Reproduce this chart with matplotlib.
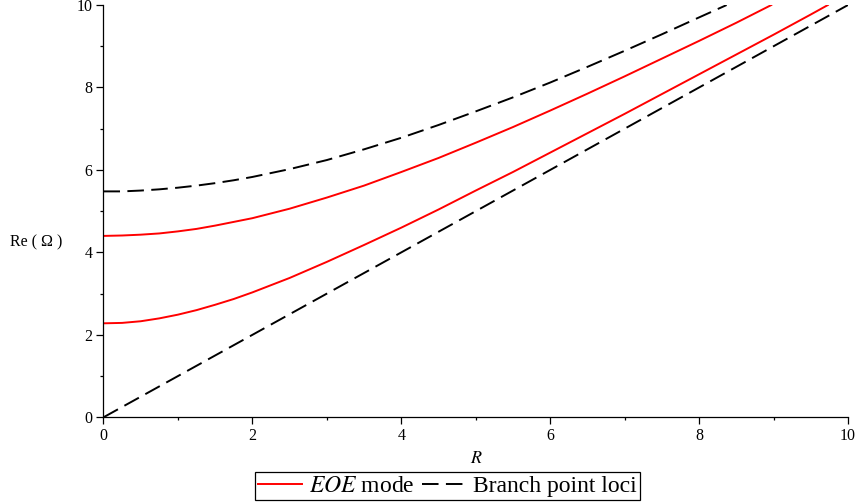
import matplotlib
matplotlib.use('Agg')
import matplotlib.pyplot as plt
from matplotlib.ticker import MultipleLocator

plt.rc('font', family='Liberation Serif', size=11.5)
plt.rc('mathtext', fontset='stix')

# values
r_low = [0, 0.25, 0.5, 0.75, 1, 1.25, 1.5, 1.75, 2, 2.5, 3, 3.5, 4, 4.5, 5, 5.5,
         6, 6.5, 7, 7.5, 8, 8.5, 9, 9.5, 9.73]
om_low = [2.28, 2.29, 2.33, 2.40, 2.49, 2.60, 2.73, 2.87, 3.03, 3.38, 3.77, 4.18,
          4.60, 5.04, 5.50, 5.95, 6.42, 6.89, 7.36, 7.84, 8.32, 8.80, 9.28, 9.77, 10.0]

r_up = [0, 0.25, 0.5, 0.75, 1, 1.25, 1.5, 1.75, 2, 2.5, 3, 3.5, 4, 4.5, 5, 5.5,
        6, 6.5, 7, 7.5, 8, 8.5, 8.97]
om_up = [4.40, 4.41, 4.43, 4.46, 4.51, 4.57, 4.65, 4.74, 4.83, 5.06, 5.33, 5.62,
         5.95, 6.29, 6.66, 7.04, 7.44, 7.85, 8.27, 8.70, 9.13, 9.57, 10.0]

r_bp = [0, 0.25, 0.5, 0.75, 1, 1.25, 1.5, 1.75, 2, 2.5, 3, 3.5, 4, 4.5, 5, 5.5,
        6, 6.5, 7, 7.5, 8, 8.37]
om_bp = [5.48, 5.48, 5.50, 5.53, 5.57, 5.62, 5.68, 5.75, 5.83, 6.02, 6.24, 6.50,
         6.78, 7.09, 7.42, 7.76, 8.12, 8.50, 8.89, 9.29, 9.70, 10.0]

r_line = [0, 10]
om_line = [0, 10]

fig = plt.figure(figsize=(8.58, 5.04), dpi=100)
ax = fig.add_axes([0.1206, 0.172, 0.8677, 0.818])

lw = 1.4
dash = (8.5, 3.8)
ax.plot(r_low, om_low, color='#ff0000', lw=lw, label='$EOE$ mode')
ax.plot(r_up, om_up, color='#ff0000', lw=lw)
ax.plot(r_bp, om_bp, color='black', lw=lw, dashes=dash, label='Branch point loci')
ax.plot(r_line, om_line, color='black', lw=lw, dashes=dash)

ax.set_xlim(0, 10)
ax.set_ylim(0, 10)
ax.spines['top'].set_visible(False)
ax.spines['right'].set_visible(False)
for s in ['left', 'bottom']:
    ax.spines[s].set_linewidth(0.9)

ax.xaxis.set_major_locator(MultipleLocator(2))
ax.xaxis.set_minor_locator(MultipleLocator(1))
ax.yaxis.set_major_locator(MultipleLocator(2))
ax.yaxis.set_minor_locator(MultipleLocator(1))
ax.tick_params(which='major', length=5, width=0.9, pad=3)
ax.tick_params(which='minor', length=2.5, width=0.9)

ax.set_xlabel('$R$', fontsize=13)
ax.xaxis.label.set_va('center')
ax.xaxis.set_label_coords(0.5003, -0.099)
ax.set_ylabel('Re ( Ω )', rotation=0, ha='center', va='center')
ax.yaxis.set_label_coords(-0.0907, 0.425)

leg = fig.legend(loc='center', bbox_to_anchor=(0.5216, 0.0357), ncol=2, fancybox=False,
                 edgecolor='black', framealpha=1, fontsize=17, handlelength=1.85,
                 handletextpad=0.33, columnspacing=0.3, borderpad=0.12, borderaxespad=0)
leg.get_frame().set_linewidth(0.9)

fig.savefig('out.png', dpi=100)
